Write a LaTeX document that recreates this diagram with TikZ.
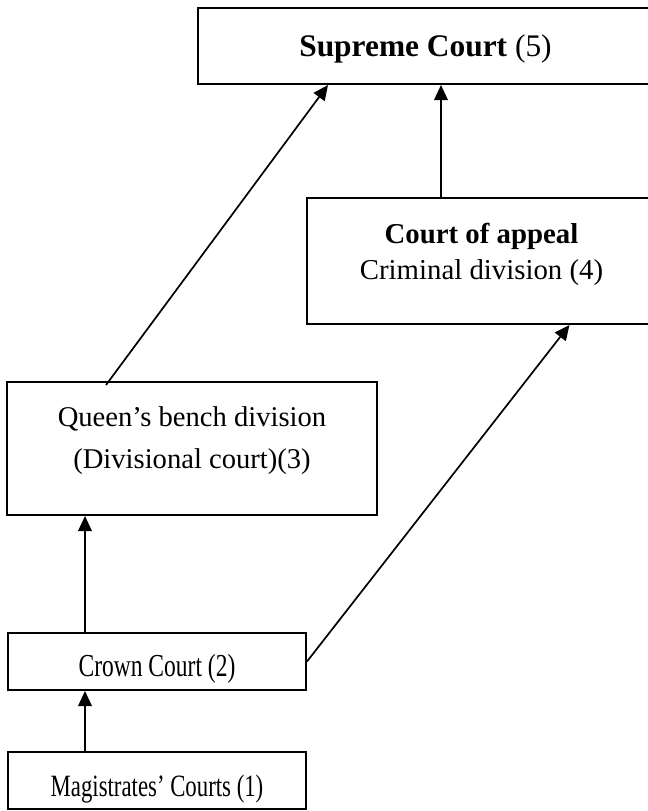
\documentclass[tikz,border=0pt]{standalone}
\usepackage{fontspec}
\setmainfont{Liberation Serif}
\newfontfamily\narrowserif[FakeStretch=0.735, Ligatures=TeX]{Liberation Serif}
\usepackage{tikz}
\usetikzlibrary{arrows.meta}

\begin{document}
\begin{tikzpicture}[x=0.5pt, y=-0.5pt,
courtbox/.style={rectangle, draw=black, line width=1pt, inner sep=0pt, anchor=north west, align=center},
arrowline/.style={line width=0.85pt, -{Triangle[length=7.5pt,width=6.8pt]}},
]
\useasboundingbox (0,0) rectangle (648,811);
\clip (0,0) rectangle (648,811);
%Nodes
\node[courtbox, minimum width=227.5pt, text height=24pt, text depth=14pt, font=\fontsize{15.7}{19}\selectfont] (sup) at (197,7) {\textbf{Supreme Court} (5)};
\node[courtbox, minimum width=174.5pt, text height=40.5pt, text depth=22.5pt, font=\fontsize{14.4}{18}\selectfont] (coa) at (306,197) {\textbf{Court of appeal}\\Criminal division (4)};
\node[courtbox, minimum width=185pt, text height=43pt, text depth=23.5pt, font=\fontsize{14.3}{21}\selectfont] (qb) at (6,381) {Queen's bench division\\(Divisional court)(3)};
\node[courtbox, minimum width=149pt, text height=21.5pt, text depth=7pt, font=\narrowserif\fontsize{16}{18}\selectfont] (crown) at (7,632) {Crown Court (2)};
\node[courtbox, minimum width=149pt, text height=22pt, text depth=6.5pt, font=\narrowserif\fontsize{15.5}{18}\selectfont] (mag) at (7,751) {Magistrates' Courts (1)};

%Lines
\draw[arrowline] ([xshift=-36pt]mag.north) -- ([xshift=-36pt]crown.south);
\draw[arrowline] ([xshift=-36pt]crown.north) -- ([xshift=-53.5pt]qb.south);
\draw[arrowline] (crown.east) -- ([xshift=44pt]coa.south);
\draw[arrowline] ([xshift=-43pt,yshift=-2pt]qb.north) -- ([xshift=-48.75pt]sup.south);
\draw[arrowline] ([xshift=-20.25pt]coa.north) -- ([xshift=7.75pt]sup.south);

\end{tikzpicture}
\end{document}
